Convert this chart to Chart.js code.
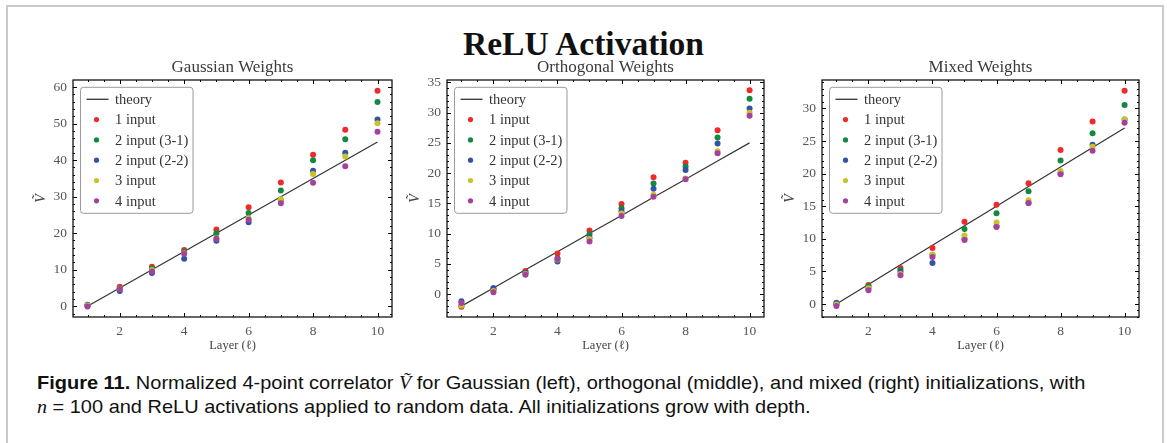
<!DOCTYPE html>
<html>
<head>
<meta charset="utf-8">
<script src="https://cdn.jsdelivr.net/npm/chart.js@4.4.0/dist/chart.umd.min.js"></script>
<style>
  body { margin: 0; background: #fff; width: 1167px; height: 443px; overflow: hidden; position: relative; }
  #frame { position: absolute; left: 6px; top: 5px; width: 1154px; height: 470px; border: 2px solid #cacaca; }
  #title { position: absolute; left: 0; top: 25px; width: 1167px; text-align: center;
           font: bold 33.5px "Liberation Serif", serif; color: #111; line-height: 38px; }
  .panel { position: absolute; top: 58px; }
  #caption { position: absolute; left: 37px; top: 371px; font: 18.5px "Liberation Sans", sans-serif;
             line-height: 23px; color: #111; white-space: nowrap; }
  #caption .ln { display: inline-block; transform-origin: left center; }
  #caption i { font-family: "Liberation Serif", serif; }
</style>
</head>
<body>
<div id="frame"></div>
<div id="title">ReLU Activation</div>
<canvas id="gauss" class="panel" width="378" height="300" style="left:22px"></canvas>
<canvas id="ortho" class="panel" width="376" height="300" style="left:396px"></canvas>
<canvas id="mixed" class="panel" width="376" height="300" style="left:771px"></canvas>
<div id="caption">
  <span class="ln"><b>Figure 11.</b> Normalized 4-point correlator <i>Ṽ</i> for Gaussian (left), orthogonal (middle), and mixed (right) initializations, with</span><br>
  <span class="ln"><i>n</i> = 100 and ReLU activations applied to random data. All initializations grow with depth.</span>
</div>
<script>
// layers on the x axis
const layers = [1, 2, 3, 4, 5, 6, 7, 8, 9, 10];
const xTicks = [2, 4, 6, 8, 10];
const seriesNames = ['1 input', '2 input (3-1)', '2 input (2-2)', '3 input', '4 input'];
const seriesColors = ['#ee2a2a', '#12893f', '#3553a6', '#c8c22c', '#a6409d'];

// Gaussian weights
const gaussTheory = [0, 5, 10, 15, 20, 25, 30, 35, 40, 45];
const gauss1  = [0.2, 5.3, 10.8, 15.4, 21.0, 27.1, 33.9, 41.5, 48.3, 59.0];
const gauss31 = [0.1, 4.9, 10.4, 14.9, 20.0, 25.5, 31.7, 40.0, 45.7, 55.9];
const gauss22 = [0.4, 4.2, 9.1, 13.0, 17.9, 23.0, 29.0, 37.1, 42.0, 51.1];
const gauss3  = [0.2, 4.8, 9.9, 14.5, 18.6, 24.1, 29.3, 36.2, 41.0, 50.1];
const gauss4  = [-0.1, 4.7, 9.5, 14.4, 18.5, 23.7, 28.2, 33.8, 38.3, 47.8];
const gaussYTicks = [0, 10, 20, 30, 40, 50, 60];

// Orthogonal weights
const orthoTheory = [-2, 1, 4, 7, 10, 13, 16, 19, 22, 25];
const ortho1  = [-2.1, 0.7, 3.8, 6.7, 10.5, 14.9, 19.3, 21.7, 27.1, 33.7];
const ortho31 = [-1.9, 0.8, 3.5, 5.9, 9.9, 14.2, 18.3, 21.1, 25.9, 32.3];
const ortho22 = [-1.2, 1.0, 3.5, 5.4, 9.3, 13.7, 17.4, 20.5, 24.9, 30.7];
const ortho3  = [-1.9, 0.5, 3.3, 5.7, 9.1, 13.3, 16.4, 19.1, 23.6, 30.0];
const ortho4  = [-1.5, 0.3, 3.2, 5.8, 8.7, 12.9, 16.1, 19.0, 23.3, 29.5];
const orthoYTicks = [0, 5, 10, 15, 20, 25, 30, 35];

// Mixed weights
const mixedTheory = [0, 3, 6, 9, 12, 15, 18, 21, 24, 27];
const mixed1  = [-0.1, 2.9, 5.5, 8.6, 12.6, 15.2, 18.5, 23.6, 28.0, 32.7];
const mixed31 = [0.0, 2.7, 5.2, 7.5, 11.5, 13.9, 17.3, 22.0, 26.2, 30.5];
const mixed22 = [0.2, 2.4, 4.9, 6.3, 10.0, 11.9, 15.5, 20.1, 24.4, 28.3];
const mixed3  = [-0.1, 2.4, 4.6, 7.6, 10.5, 12.5, 15.9, 20.4, 24.1, 28.3];
const mixed4  = [-0.3, 2.1, 4.4, 7.2, 9.8, 11.8, 15.5, 19.9, 23.5, 27.8];
const mixedYTicks = [0, 5, 10, 15, 20, 25, 30];

const serif = 'Liberation Serif';

// frame around the plot area with inward major/minor ticks on all sides,
// plus the panel heading centred over the plot area
const boxTicks = {
  id: 'boxTicks',
  afterDatasetsDraw(chart, args, opts) {
    const { ctx, chartArea: a, scales: { x, y } } = chart;
    ctx.save();
    ctx.strokeStyle = '#000';
    ctx.lineWidth = 1;
    ctx.beginPath();
    const tick = (px, vertical, len) => {
      if (vertical) {
        ctx.moveTo(px, a.bottom); ctx.lineTo(px, a.bottom - len);
        ctx.moveTo(px, a.top); ctx.lineTo(px, a.top + len);
      } else {
        ctx.moveTo(a.left, px); ctx.lineTo(a.left + len, px);
        ctx.moveTo(a.right, px); ctx.lineTo(a.right - len, px);
      }
    };
    for (let v = Math.ceil(x.min / 0.5) * 0.5; v <= x.max; v += 0.5) tick(Math.round(x.getPixelForValue(v)) + 0.5, true, 2);
    for (let v = Math.ceil(y.min / opts.yMinor) * opts.yMinor; v <= y.max; v += opts.yMinor) tick(Math.round(y.getPixelForValue(v)) + 0.5, false, 2);
    x.ticks.forEach(t => tick(Math.round(x.getPixelForValue(t.value)) + 0.5, true, 4));
    y.ticks.forEach(t => tick(Math.round(y.getPixelForValue(t.value)) + 0.5, false, 4));
    ctx.stroke();
    ctx.lineWidth = 1.2;
    ctx.strokeRect(a.left, a.top, a.right - a.left, a.bottom - a.top);

    ctx.fillStyle = '#3a3a3a';
    ctx.font = '17px "' + serif + '"';
    ctx.textAlign = 'center';
    ctx.textBaseline = 'middle';
    ctx.fillText(opts.heading, (a.left + a.right) / 2, a.top - 12);
    ctx.restore();
  }
};

// legend box in the upper left of the plot area
const boxLegend = {
  id: 'boxLegend',
  afterDraw(chart) {
    const { ctx, chartArea: a } = chart;
    const bx = a.left + 7.5, by = a.top + 7.3, bw = 112.5, bh = 126;
    ctx.save();
    ctx.fillStyle = 'rgba(255,255,255,0.9)';
    ctx.strokeStyle = '#9a9a9a';
    ctx.lineWidth = 1;
    ctx.beginPath();
    ctx.roundRect(bx, by, bw, bh, 3);
    ctx.fill();
    ctx.stroke();
    ctx.font = '14.5px "' + serif + '"';
    ctx.textBaseline = 'middle';
    chart.data.datasets.forEach((ds, i) => {
      const ry = by + 12 + i * 20.3;
      if (ds.showLine) {
        ctx.strokeStyle = ds.borderColor;
        ctx.lineWidth = 1.3;
        ctx.beginPath();
        ctx.moveTo(bx + 6, ry); ctx.lineTo(bx + 28, ry);
        ctx.stroke();
      } else {
        ctx.fillStyle = ds.backgroundColor;
        ctx.beginPath();
        ctx.arc(bx + 16, ry, 2.6, 0, Math.PI * 2);
        ctx.fill();
      }
      ctx.fillStyle = '#333';
      ctx.fillText(ds.label, bx + 34.5, ry + 1);
    });
    ctx.restore();
  }
};

function pts(vals) {
  return layers.map((l, i) => ({ x: l, y: vals[i] }));
}

function makePanel(id, title, theory, series, yMin, yMax, yTicks, yMinor) {
  const datasets = [{
    label: 'theory', data: pts(theory), showLine: true, borderColor: '#333',
    borderWidth: 1.2, pointRadius: 0, order: 6
  }];
  series.forEach((vals, k) => datasets.push({
    label: seriesNames[k], data: pts(vals), backgroundColor: seriesColors[k],
    borderWidth: 0, pointRadius: 3, order: 5 - k
  }));
  const el = document.getElementById(id);
  return new Chart(el, {
    type: 'scatter',
    data: { datasets },
    options: {
      responsive: false,
      animation: false,
      devicePixelRatio: 1,
      layout: { padding: { right: el.width - 51 - (id === 'gauss' ? 319 : 317), left: 0, top: 22, bottom: 0 } },
      plugins: {
        legend: { display: false },
        tooltip: { enabled: false },
        title: { display: false },
        boxTicks: { yMinor, heading: title }
      },
      scales: {
        x: {
          type: 'linear', min: 0.55, max: 10.45,
          grid: { display: false, drawTicks: false }, border: { display: false },
          afterBuildTicks: s => { s.ticks = xTicks.map(v => ({ value: v })); },
          afterFit: s => { s.height = 41; },
          ticks: { color: '#555', font: { family: serif, size: 13.5 }, padding: 6, maxRotation: 0 },
          title: { display: true, text: 'Layer (ℓ)', color: '#444', font: { family: serif, size: 12.5 }, padding: { top: 0, bottom: 5 } }
        },
        y: {
          type: 'linear', min: yMin, max: yMax,
          grid: { display: false, drawTicks: false }, border: { display: false },
          afterBuildTicks: s => { s.ticks = yTicks.map(v => ({ value: v })); },
          afterFit: s => { s.width = 51; },
          ticks: { color: '#555', font: { family: serif, size: 13.5 }, padding: 6 },
          title: { display: true, text: 'Ṽ', color: '#444', font: { family: serif, size: 14, style: 'italic' }, padding: { top: 11, bottom: 0 } }
        }
      }
    },
    plugins: [boxTicks, boxLegend]
  });
}

makePanel('gauss', 'Gaussian Weights', gaussTheory, [gauss1, gauss31, gauss22, gauss3, gauss4], -2.95, 61.95, gaussYTicks, 2);
makePanel('ortho', 'Orthogonal Weights', orthoTheory, [ortho1, ortho31, ortho22, ortho3, ortho4], -3.8, 35.4, orthoYTicks, 1);
makePanel('mixed', 'Mixed Weights', mixedTheory, [mixed1, mixed31, mixed22, mixed3, mixed4], -2.0, 34.35, mixedYTicks, 1);

// squeeze the caption lines to the width of the original
const lines = document.querySelectorAll('#caption .ln');
const k = 1048 / lines[0].getBoundingClientRect().width;
lines.forEach(l => { l.style.transform = 'scaleX(' + k.toFixed(3) + ')'; });
</script>
</body>
</html>
